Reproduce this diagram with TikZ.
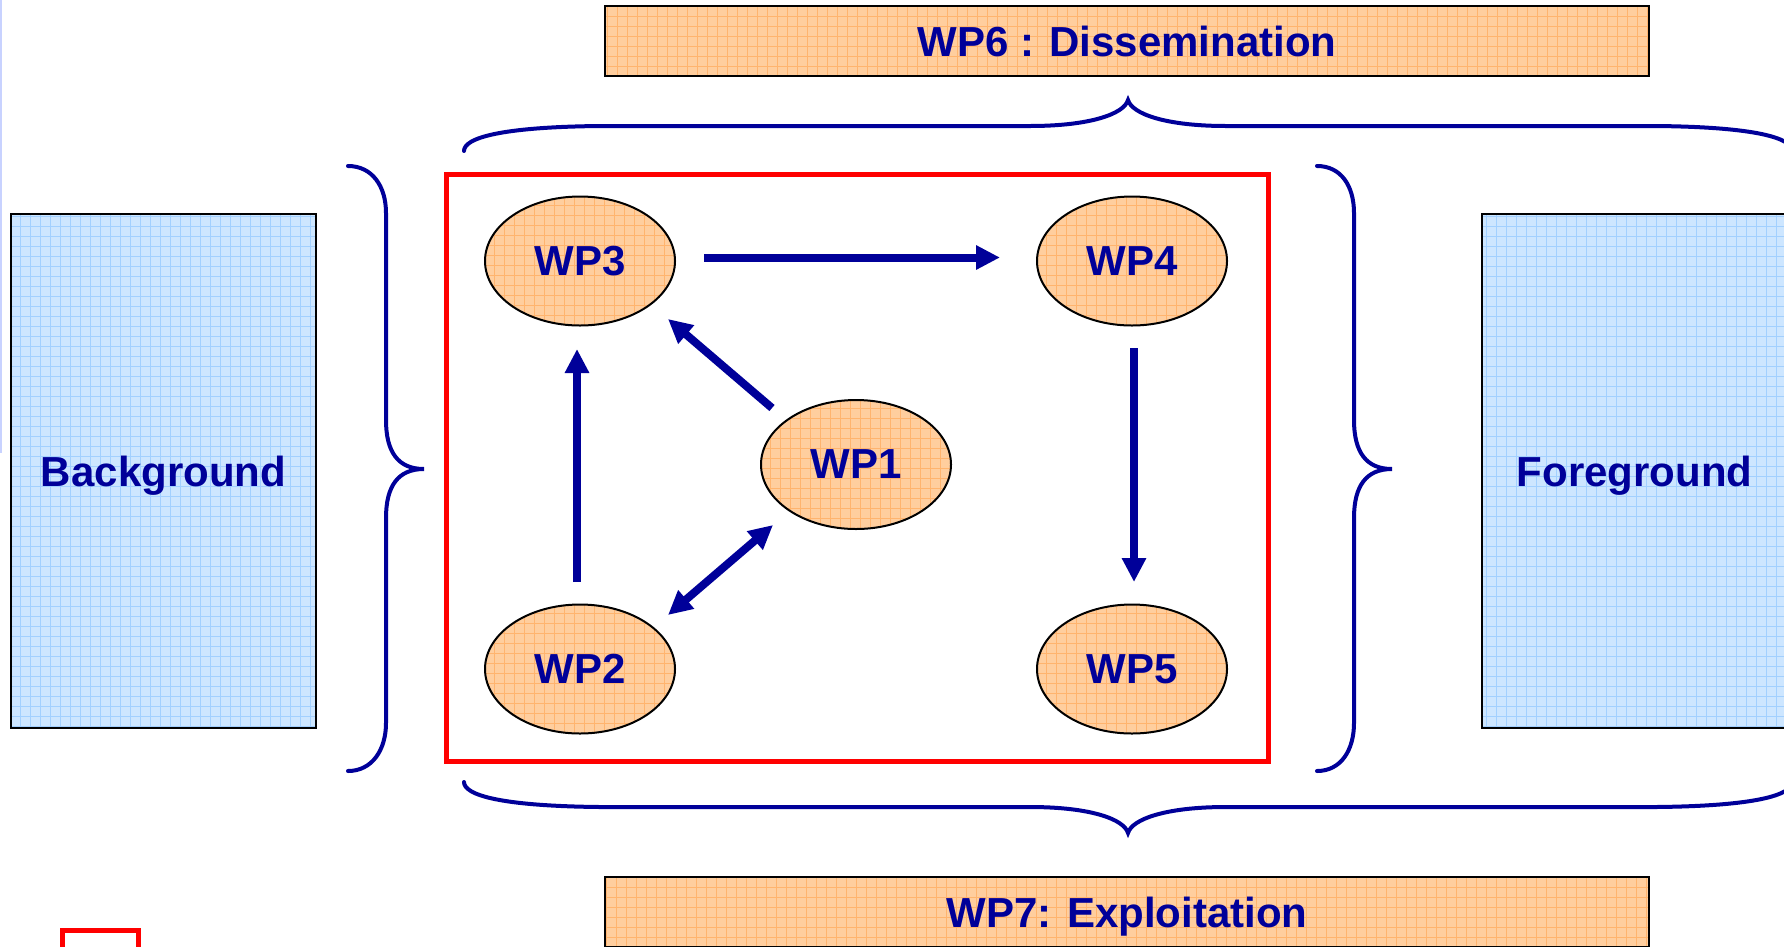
\documentclass[tikz,border=0pt]{standalone}
\usepackage{fontspec}
\setmainfont{Liberation Sans}
\usetikzlibrary{shapes.geometric,arrows.meta,calc}

\definecolor{wpblue}{RGB}{0,0,153}
\definecolor{peach}{HTML}{FFCE9E}
\definecolor{peachgrid}{HTML}{FFB46E}
\definecolor{sky}{HTML}{CDE6FF}
\definecolor{skygrid}{HTML}{A2D0FF}
\definecolor{edgeblue}{HTML}{C8D2FF}

\tikzset{
  wptext/.style={font=\fontsize{42}{50}\selectfont\bfseries, text=wpblue, text depth=0pt},
  gridfill/.style 2 args={fill=#1, path picture={
      \draw[#2, line width=1pt] (path picture bounding box.south west)
        grid[step=10pt] (path picture bounding box.north east);}},
  banner/.style={draw=black, line width=2pt, gridfill={peach}{peachgrid}, wptext,
    minimum width=1044pt, minimum height=70pt, inner sep=0pt},
  sidebox/.style={draw=black, line width=2pt, gridfill={sky}{skygrid}, wptext,
    minimum width=305pt, minimum height=514pt, inner sep=0pt},
  wp/.style={ellipse, draw=black, line width=2pt, gridfill={peach}{peachgrid}, wptext,
    minimum width=190pt, minimum height=129pt, inner sep=0pt},
  frame/.style={draw=red, line width=5pt, inner sep=0pt},
  brace/.style={draw=wpblue, line width=4pt, line cap=round},
  flow/.style={draw=wpblue, line width=8pt, -{Triangle[length=24pt,width=23pt]}},
  flowboth/.style={draw=wpblue, line width=8pt,
    {Triangle[length=24pt,width=23pt]}-{Triangle[length=24pt,width=23pt]}},
}

\begin{document}
\begin{tikzpicture}[x=1pt, y=-1pt]
  \clip (0,0) rectangle (1784,946);
  \fill[white] (0,0) rectangle (1784,946);

  % thin rule along the left edge
  \draw[edgeblue, line width=2pt] (1,0) -- (1,453);

  % work-package banners
  \node[banner] (wp6) at (1127,41) {WP6 : Dissemination};
  \node[banner] (wp7) at (1127,912) {WP7: Exploitation};

  % side panels
  \node[sidebox] (bg) at (163.5,471) {Background};
  \node[sidebox] (fg) at (1634.5,471) {Foreground};

  % core frame and small marker
  \node[frame, minimum width=822pt, minimum height=587pt] (core) at (857.5,468) {};
  \node[frame, minimum width=76pt, minimum height=70pt] (key) at (100.5,965.5) {};

  % core work packages
  \node[wp] (wp3) at (580,261) {WP3};
  \node[wp] (wp4) at (1132,261) {WP4};
  \node[wp] (wp1) at (856,464.5) {WP1};
  \node[wp] (wp2) at (580,669) {WP2};
  \node[wp] (wp5) at (1132,669) {WP5};

  % flows between work packages
  \draw[flow] ($(wp3)+(124,-3.5)$) -- ($(wp4)+(-132,-3.5)$);
  \draw[flow] ($(wp4)+(2,87)$) -- ($(wp5)+(2,-87)$);
  \draw[flow] ($(wp2)+(-3,-87)$) -- ($(wp3)+(-3,88)$);
  \draw[flow] ($(wp1)+(-84,-56.5)$) -- ($(wp3)+(88,58)$);
  \draw[flowboth] ($(wp1)+(-83,60.5)$) -- ($(wp2)+(88,-54)$);

  % left brace
  \draw[brace] (348,166) .. controls (372,166) and (386,186) .. (386,213)
    -- (386,420) .. controls (386,452) and (398,469) .. (424,469)
    .. controls (398,469) and (386,486) .. (386,518)
    -- (386,723) .. controls (386,750) and (372,771) .. (348,771);
  % right brace
  \draw[brace] (1317,166) .. controls (1341,166) and (1354,186) .. (1354,213)
    -- (1354,420) .. controls (1354,452) and (1366,469) .. (1392,469)
    .. controls (1366,469) and (1354,486) .. (1354,518)
    -- (1354,723) .. controls (1354,750) and (1341,771) .. (1317,771);
  % top brace
  \draw[brace] (464,151) .. controls (464,138) and (500,127) .. (600,126)
    -- (1030,126) .. controls (1090,126) and (1124,114) .. (1128,100)
    .. controls (1132,114) and (1166,126) .. (1226,126)
    -- (1656,126) .. controls (1756,127) and (1792,138) .. (1792,151);
  % bottom brace
  \draw[brace] (464,782) .. controls (464,795) and (500,806) .. (600,807)
    -- (1030,807) .. controls (1090,807) and (1124,819) .. (1128,833)
    .. controls (1132,819) and (1166,807) .. (1226,807)
    -- (1656,807) .. controls (1756,806) and (1792,795) .. (1792,782);
\end{tikzpicture}
\end{document}
